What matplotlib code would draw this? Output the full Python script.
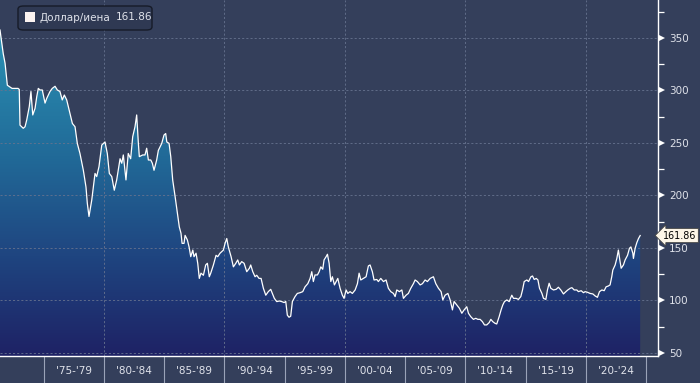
import numpy as np
import matplotlib
matplotlib.use("Agg")
import matplotlib.pyplot as plt
from matplotlib.colors import LinearSegmentedColormap
from matplotlib.patches import Polygon, FancyBboxPatch
import matplotlib.transforms as mtransforms

# USD/JPY (decimal years, yen per dollar)
years = [
    1971.36, 1971.63, 1971.78, 1971.97, 1972.36, 1972.86, 1972.96, 1973.02, 1973.29, 1973.44,
    1973.58, 1973.79, 1973.93, 1974.08, 1974.27, 1974.41, 1974.54, 1974.68, 1974.87, 1975.10,
    1975.24, 1975.51, 1975.70, 1975.93, 1976.12, 1976.34, 1976.53, 1976.70, 1976.90, 1977.17,
    1977.37, 1977.59, 1977.78, 1978.00, 1978.28, 1978.50, 1978.61, 1978.75, 1978.98, 1979.25,
    1979.39, 1979.58, 1979.81, 1980.08, 1980.27, 1980.44, 1980.64, 1980.85, 1981.05, 1981.33,
    1981.47, 1981.60, 1981.82, 1982.01, 1982.21, 1982.38, 1982.57, 1982.71, 1982.85, 1982.93,
    1983.21, 1983.40, 1983.54, 1983.68, 1983.88, 1984.01, 1984.15, 1984.37, 1984.51, 1984.79,
    1984.98, 1985.12, 1985.21, 1985.40, 1985.54, 1985.70, 1985.90, 1986.09, 1986.25, 1986.39,
    1986.48, 1986.64, 1986.73, 1986.92, 1987.06, 1987.20, 1987.37, 1987.47, 1987.64, 1987.78,
    1987.91, 1988.05, 1988.25, 1988.44, 1988.58, 1988.74, 1988.86, 1989.08, 1989.30, 1989.44,
    1989.63, 1989.91, 1990.05, 1990.19, 1990.32, 1990.55, 1990.74, 1990.94, 1991.10, 1991.24,
    1991.43, 1991.63, 1991.85, 1992.07, 1992.18, 1992.35, 1992.54, 1992.68, 1992.87, 1993.04,
    1993.23, 1993.43, 1993.64, 1993.84, 1993.98, 1994.14, 1994.34, 1994.56, 1994.76, 1994.95,
    1995.09, 1995.22, 1995.36, 1995.50, 1995.64, 1995.86, 1996.05, 1996.28, 1996.50, 1996.69,
    1996.92, 1997.11, 1997.25, 1997.38, 1997.52, 1997.72, 1997.86, 1998.00, 1998.16, 1998.27,
    1998.44, 1998.55, 1998.69, 1998.83, 1998.96, 1999.13, 1999.27, 1999.41, 1999.60, 1999.79,
    1999.93, 2000.10, 2000.24, 2000.43, 2000.62, 2000.85, 2001.04, 2001.18, 2001.32, 2001.54,
    2001.76, 2001.95, 2002.09, 2002.28, 2002.42, 2002.65, 2002.78, 2002.98, 2003.20, 2003.42,
    2003.61, 2003.81, 2004.03, 2004.17, 2004.31, 2004.53, 2004.73, 2004.86, 2005.08, 2005.27,
    2005.47, 2005.69, 2005.83, 2006.02, 2006.25, 2006.44, 2006.66, 2006.85, 2007.08, 2007.35,
    2007.55, 2007.77, 2007.99, 2008.13, 2008.32, 2008.55, 2008.74, 2008.93, 2009.07, 2009.29,
    2009.51, 2009.71, 2009.90, 2010.12, 2010.26, 2010.45, 2010.67, 2010.87, 2011.04, 2011.23,
    2011.42, 2011.59, 2011.78, 2011.98, 2012.12, 2012.28, 2012.47, 2012.61, 2012.81, 2012.97,
    2013.11, 2013.25, 2013.45, 2013.64, 2013.86, 2014.00, 2014.22, 2014.41, 2014.61, 2014.75,
    2014.89, 2015.11, 2015.25, 2015.45, 2015.58, 2015.72, 2015.89, 2016.03, 2016.16, 2016.36,
    2016.49, 2016.69, 2016.82, 2016.96, 2017.10, 2017.32, 2017.54, 2017.73, 2017.93, 2018.15,
    2018.35, 2018.51, 2018.71, 2018.85, 2019.04, 2019.26, 2019.39, 2019.62, 2019.81, 2019.95,
    2020.14, 2020.36, 2020.59, 2020.78, 2020.97, 2021.14, 2021.34, 2021.53, 2021.69, 2021.88,
    2022.02, 2022.16, 2022.25, 2022.44, 2022.58, 2022.71, 2022.85, 2022.94, 2023.13, 2023.27,
    2023.47, 2023.63, 2023.75, 2023.91, 2023.96, 2024.10, 2024.24, 2024.38, 2024.52,
]
usdjpy = [
    357.6, 335.0, 326.0, 305.0, 302.0, 302.0, 301.0, 267.0, 264.0, 265.5,
    272.0, 284.6, 299.0, 276.7, 283.0, 294.0, 302.0, 300.5, 300.5, 288.0,
    292.5, 299.0, 302.0, 304.0, 300.5, 299.0, 291.0, 295.7, 291.0, 278.0,
    268.6, 265.5, 249.6, 240.0, 224.0, 208.0, 192.6, 180.0, 195.7, 221.0,
    218.0, 227.5, 248.0, 251.0, 240.0, 221.0, 218.0, 205.0, 214.8, 235.0,
    230.7, 238.6, 214.8, 240.0, 235.0, 256.0, 265.5, 276.7, 249.6, 237.0,
    238.6, 238.6, 245.0, 233.8, 233.8, 230.7, 224.0, 233.8, 243.0, 249.6,
    257.6, 259.0, 251.0, 249.6, 237.0, 214.8, 199.0, 183.0, 170.0, 164.0,
    154.4, 154.4, 162.0, 157.6, 151.0, 141.7, 148.0, 141.7, 145.0, 135.4,
    121.0, 126.0, 124.0, 133.8, 135.4, 122.6, 126.0, 133.8, 143.0, 141.7,
    145.0, 148.0, 154.4, 159.0, 151.0, 141.7, 132.0, 135.4, 138.6, 133.8,
    137.0, 135.4, 127.4, 130.7, 133.8, 127.4, 122.6, 124.0, 121.0, 121.0,
    111.6, 105.0, 108.4, 110.6, 106.7, 102.0, 98.9, 99.5, 98.9, 98.0,
    99.0, 86.0, 84.0, 85.0, 99.0, 103.7, 106.7, 107.4, 108.4, 113.0,
    116.0, 121.0, 127.4, 118.0, 124.3, 124.3, 127.4, 132.0, 129.7, 138.6,
    141.7, 144.0, 135.4, 118.0, 122.6, 114.8, 118.0, 121.0, 111.6, 105.0,
    102.0, 110.0, 106.7, 108.4, 106.7, 110.0, 116.0, 126.0, 119.5, 121.0,
    122.6, 132.9, 133.8, 127.4, 119.5, 120.0, 118.0, 121.0, 118.0, 119.5,
    111.6, 108.4, 106.7, 103.7, 110.0, 108.4, 110.0, 102.0, 105.0, 106.7,
    111.6, 116.0, 119.5, 118.0, 114.8, 116.0, 119.5, 118.0, 121.0, 122.6,
    116.0, 111.6, 108.4, 100.5, 105.0, 106.7, 100.5, 91.0, 99.0, 95.7,
    92.5, 87.8, 91.0, 94.0, 87.8, 84.6, 82.0, 83.0, 82.0, 82.0,
    79.8, 76.7, 76.7, 78.9, 82.0, 79.8, 78.2, 77.6, 84.6, 91.0,
    95.7, 98.9, 100.5, 98.9, 105.0, 102.0, 102.0, 101.0, 103.7, 110.0,
    118.0, 119.5, 118.0, 122.6, 123.3, 120.0, 121.0, 119.5, 111.6, 106.7,
    102.0, 101.0, 110.0, 116.4, 111.6, 110.0, 110.6, 112.6, 110.0, 106.2,
    108.4, 110.0, 111.6, 112.2, 110.0, 110.0, 108.4, 109.3, 107.4, 108.4,
    107.8, 106.7, 106.2, 104.3, 103.0, 108.4, 110.0, 109.3, 113.0, 113.8,
    114.8, 122.6, 129.0, 133.8, 140.0, 148.0, 137.0, 130.7, 133.8, 138.6,
    143.0, 149.7, 151.0, 145.0, 140.0, 149.7, 155.0, 159.0, 161.86,
]
last_value = "161.86"
series_name = "Доллар/иена"
y_ticks = [50, 100, 150, 200, 250, 300, 350]
period_starts = [1975, 1980, 1985, 1990, 1995, 2000, 2005, 2010, 2015, 2020, 2025]
period_labels = ["'75-'79", "'80-'84", "'85-'89", "'90-'94", "'95-'99",
                 "'00-'04", "'05-'09", "'10-'14", "'15-'19", "'20-'24"]

BG = "#343f5b"
GRID = "#67738f"
TXT = "#dfe2ea"

plt.rcParams['font.family'] = ['DejaVu Sans']

fig = plt.figure(figsize=(7, 3.83), dpi=100, facecolor=BG)
ax = fig.add_axes([0.0, 0.0705, 0.94, 0.9295])
ax.set_facecolor(BG)

xmin, xmax = 1971.36, 2026.0
ymin, ymax = 47.1, 386.2

# gradient fill under the line
cmap = LinearSegmentedColormap.from_list(
    "fx", [(0.0, "#1e2265"), (0.3, "#1f4580"), (0.6, "#216a98"), (1.0, "#2b95b6")])
grad = np.linspace(0, 1, 256).reshape(-1, 1)
im = ax.imshow(grad, extent=[xmin, xmax, ymin, 365], origin="lower",
               aspect="auto", cmap=cmap, zorder=1)
verts = [(years[0], ymin)] + list(zip(years, usdjpy)) + [(years[-1], ymin)]
poly = Polygon(verts, closed=True, facecolor="none", edgecolor="none")
ax.add_patch(poly)
im.set_clip_path(poly)

ax.plot(years, usdjpy, color="white", lw=0.9, zorder=3)

ax.set_xlim(xmin, xmax)
ax.set_ylim(ymin, ymax)

# grid
for v in y_ticks:
    ax.axhline(v, color=GRID, lw=0.6, ls=(0, (2.5, 2.5)), zorder=2)
for yr in [1980, 1990, 2000, 2010, 2020]:
    ax.axvline(yr, color=GRID, lw=0.6, ls=(0, (2.5, 2.5)), zorder=2)

# spines
for s in ["left", "top"]:
    ax.spines[s].set_visible(False)
for s in ["right", "bottom"]:
    ax.spines[s].set_color("white")
    ax.spines[s].set_linewidth(1.0)
    ax.spines[s].set_zorder(4)

# right axis
ax.yaxis.tick_right()
ax.set_yticks(y_ticks)
ax.set_yticks([75, 125, 175, 225, 275, 325, 375], minor=True)
ax.tick_params(axis="y", which="major", length=0, pad=8, labelsize=7.5, labelcolor=TXT)
ax.tick_params(axis="y", which="minor", length=4, width=0.9, color="white", direction="out")
tri_tr = mtransforms.blended_transform_factory(ax.transAxes, ax.transData)
ax.plot([1.006] * len(y_ticks), y_ticks, marker=">", ls="none", color="white",
        ms=4.5, mew=0, transform=tri_tr, clip_on=False, zorder=5)

# bottom axis: separators between periods, labels centred
ax.set_xticks(period_starts)
ax.set_xticklabels([])
ax.tick_params(axis="x", which="major", length=20, width=0.8, color="#9aa3b8", direction="out")
mids = [p + 2.5 for p in period_starts[:-1]]
ax.set_xticks(mids, minor=True)
ax.set_xticklabels(period_labels, minor=True)
ax.tick_params(axis="x", which="minor", length=0, pad=7, labelsize=7.5, labelcolor=TXT)

# legend box
box = FancyBboxPatch((18 / 700, 1 - 30 / 383), 134 / 700, 24 / 383,
                     boxstyle="round,pad=0,rounding_size=0.008",
                     transform=fig.transFigure, facecolor="#2f3953",
                     edgecolor="#161b28", lw=1.0, zorder=10)
fig.patches.append(box)
sq = plt.Rectangle((25 / 700, 1 - 22 / 383), 10 / 700, 10 / 383,
                   transform=fig.transFigure, facecolor="#fbf3f0", edgecolor="none", zorder=11)
fig.patches.append(sq)
fig.text(40 / 700, 1 - 17.5 / 383, series_name, color=TXT, fontsize=7.5,
         va="center", ha="left", zorder=12)
fig.text(116 / 700, 1 - 17.5 / 383, last_value, color=TXT, fontsize=7.5,
         va="center", ha="left", zorder=12)

# last value tag
ax.annotate(last_value, xy=(1.0, usdjpy[-1]), xycoords=tri_tr,
            xytext=(3.5, 0), textcoords="offset points", va="center", ha="left",
            fontsize=6.9, color="black", annotation_clip=False,
            bbox=dict(boxstyle="larrow,pad=0.22", fc="#fdf6e8", ec="#444444", lw=0.6),
            zorder=12)

fig.savefig("out.png", dpi=100, facecolor=BG)
